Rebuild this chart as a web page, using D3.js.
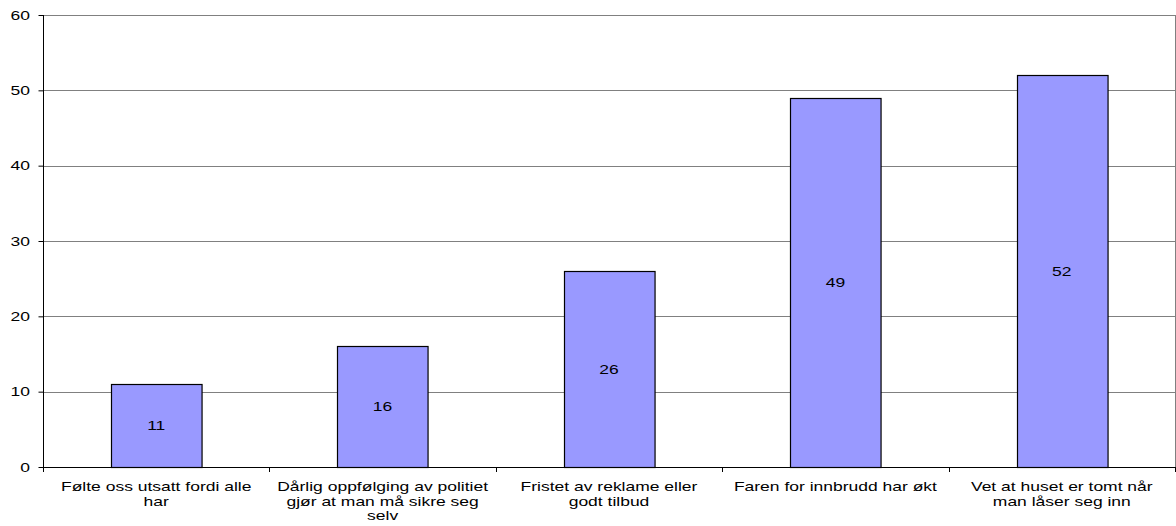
<!DOCTYPE html>
<html>
<head>
<meta charset="utf-8">
<script src="https://cdnjs.cloudflare.com/ajax/libs/d3/7.8.5/d3.min.js"></script>
<style>
    body { margin: 0; background: #fff; }
    text { font-family: "Liberation Sans", Arial, sans-serif; }
</style>
</head>
<body>
<svg id="chart" width="1176" height="526"></svg>
<script>
    const categories = [
        ["Følte oss utsatt fordi alle", "har"],
        ["Dårlig oppfølging av politiet", "gjør at man må sikre seg", "selv"],
        ["Fristet av reklame eller", "godt tilbud"],
        ["Faren for innbrudd har økt"],
        ["Vet at huset er tomt når", "man låser seg inn"]
    ];
    const values = [11, 16, 26, 49, 52];
    const yTicks = [0, 10, 20, 30, 40, 50, 60];

    const svg = d3.select('#chart');
    const plotLeft = 43, plotRight = 1175, plotTop = 15, plotBottom = 467;
    const stretch = 1.4, fontSize = 12.5;

    const x = d3.scaleBand().domain(d3.range(values.length)).range([plotLeft, plotRight]).paddingInner(0.6).paddingOuter(0.3);
    const band = d3.scaleBand().domain(d3.range(values.length)).range([plotLeft, plotRight]);
    const y = d3.scaleLinear().domain([0, 60]).range([plotBottom, plotTop]);

    // wide-looking text: place at (px,py) and stretch horizontally
    const wideText = (sel, px, py) => sel
        .attr('transform', (d, i) => `translate(${px(d, i)},${py(d, i)}) scale(${stretch},1)`)
        .attr('font-size', fontSize)
        .attr('fill', '#000');

    // gridlines
    svg.append('g')
        .selectAll('line')
        .data(yTicks.filter(d => d > 0))
        .join('line')
        .attr('x1', plotLeft).attr('x2', plotRight)
        .attr('y1', d => Math.round(y(d)) + 0.5).attr('y2', d => Math.round(y(d)) + 0.5)
        .attr('stroke', '#808080');

    // right border
    svg.append('line')
        .attr('x1', plotRight + 0.5).attr('x2', plotRight + 0.5)
        .attr('y1', plotTop).attr('y2', plotBottom)
        .attr('stroke', '#808080');

    // bars
    svg.append('g')
        .selectAll('rect')
        .data(values)
        .join('rect')
        .attr('x', (d, i) => Math.round(x(i)) + 0.5)
        .attr('y', d => Math.round(y(d)) + 0.5)
        .attr('width', x.bandwidth())
        .attr('height', d => y(0) - Math.round(y(d)))
        .attr('fill', '#9999FF')
        .attr('stroke', '#000')
        .attr('stroke-width', 1.2);

    // value labels
    svg.append('g')
        .selectAll('text')
        .data(values)
        .join('text')
        .attr('text-anchor', 'middle')
        .call(wideText, (d, i) => x(i) + x.bandwidth() / 2, d => (y(d) + y(0)) / 2 + 4.5)
        .text(d => d);

    // y axis
    const yAxis = d3.axisLeft(y).tickValues(yTicks).tickSize(5).tickFormat('');
    const gy = svg.append('g').attr('transform', `translate(${plotLeft + 0.5},0)`).call(yAxis);
    gy.select('.domain').attr('stroke', '#000').attr('d', `M0,${plotTop}V${plotBottom}`);
    gy.selectAll('.tick line').attr('stroke', '#000');
    svg.append('g')
        .selectAll('text')
        .data(yTicks)
        .join('text')
        .attr('text-anchor', 'end')
        .call(wideText, () => 30, d => y(d) + 4.5)
        .text(d => d);

    // x axis
    svg.append('line')
        .attr('x1', plotLeft).attr('x2', plotRight)
        .attr('y1', plotBottom + 0.5).attr('y2', plotBottom + 0.5)
        .attr('stroke', '#000');
    svg.append('g')
        .selectAll('line')
        .data(d3.range(values.length + 1))
        .join('line')
        .attr('x1', i => Math.round(plotLeft + i * band.step()) + 0.5)
        .attr('x2', i => Math.round(plotLeft + i * band.step()) + 0.5)
        .attr('y1', plotBottom).attr('y2', plotBottom + 5)
        .attr('stroke', '#000');

    // category labels
    svg.append('g')
        .selectAll('text')
        .data(categories)
        .join('text')
        .attr('text-anchor', 'middle')
        .call(wideText, (d, i) => band(i) + band.bandwidth() / 2, () => 0)
        .selectAll('tspan')
        .data(d => d)
        .join('tspan')
        .attr('x', 0)
        .attr('y', (d, j) => 491.5 + j * 14.5)
        .text(d => d);
</script>
</body>
</html>
